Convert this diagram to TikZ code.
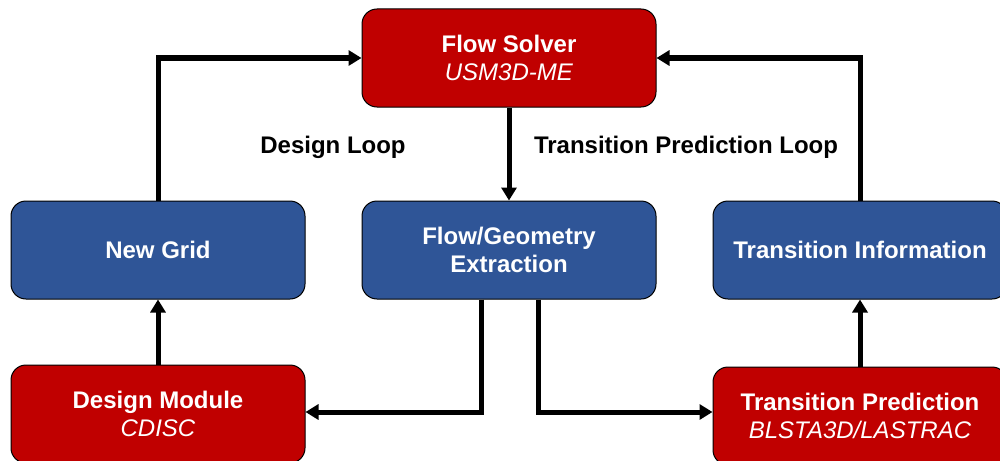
\documentclass[tikz,border=0pt]{standalone}
\usepackage{fontspec}
\setmainfont{Liberation Sans}
\usetikzlibrary{arrows.meta,positioning}
\definecolor{boxred}{HTML}{C00000}
\definecolor{boxblue}{HTML}{2F5597}
\tikzset{
  box/.style={draw=black, line width=1pt, rounded corners=15pt, minimum width=294pt, minimum height=98pt, text=white, align=center, font=\fontsize{24}{28}\selectfont, inner sep=0pt},
  redbox/.style={box, fill=boxred},
  bluebox/.style={box, fill=boxblue},
  conn/.style={line width=5pt, -{Triangle[length=13pt,width=15pt]}},
  looplabel/.style={font=\fontsize{24}{28}\selectfont\bfseries, text=black}
}
\begin{document}
\begin{tikzpicture}[x=1pt,y=-1pt]
\clip (0,0) rectangle (1000,460);
\fill[white] (0,0) rectangle (1000,460);
\node[redbox] (fs) at (509,58) {\textbf{Flow Solver}\\\textit{USM3D-ME}};
\node[bluebox] (ng) at (158,250) {\textbf{New Grid}};
\node[bluebox] (fg) at (509,250) {\textbf{Flow/Geometry}\\\textbf{Extraction}};
\node[bluebox] (ti) at (860,250) {\textbf{Transition Information}};
\node[redbox] (dm) at (158,414) {\textbf{Design Module}\\\textit{CDISC}};
\node[redbox] (tp) at (860,416) {\textbf{Transition Prediction}\\\textit{BLSTA3D/LASTRAC}};
\node[looplabel] (dl) at (333,147) {Design Loop};
\node[looplabel] (tl) at (686,147) {Transition Prediction Loop};
\draw[conn] (ng.north) |- (fs.west);
\draw[conn] (ti.north) |- (fs.east);
\draw[conn] (fs.south) -- (fg.north);
\coordinate (fgl) at ([xshift=-28pt]fg.south);
\coordinate (fgr) at ([xshift=29pt]fg.south);
\draw[conn] (fgl) |- (dm.east |- 0,412);
\draw[conn] (fgr) |- (tp.west |- 0,412);
\draw[conn] (dm.north) -- (ng.south);
\draw[conn] (tp.north) -- (ti.south);
\end{tikzpicture}
\end{document}
